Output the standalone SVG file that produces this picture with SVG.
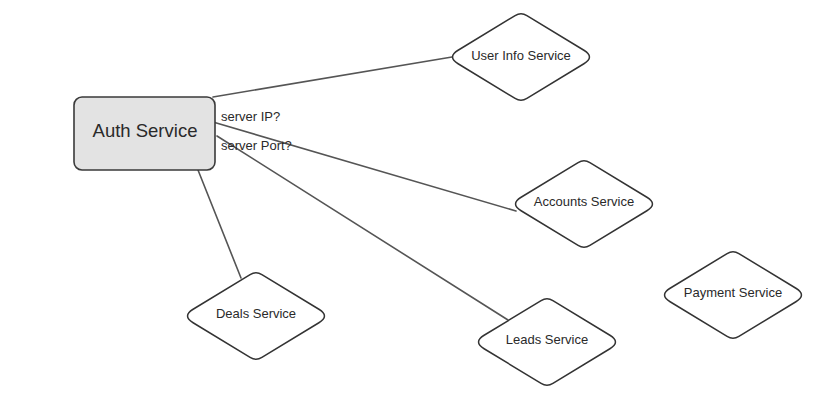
<svg xmlns="http://www.w3.org/2000/svg" xmlns:xlink="http://www.w3.org/1999/xlink" width="819" height="400" viewBox="0 0 819 400">
<style>
.bg{fill:#ffffff}
.conn{stroke:#555555;stroke-width:1.6;fill:none;stroke-linecap:round}
.dia{fill:#ffffff;stroke:#333333;stroke-width:1.5;stroke-linejoin:round}
.box{fill:#e3e3e3;stroke:#3a3a3a;stroke-width:1.6}
.t{font-family:"Liberation Sans",Arial,sans-serif;font-size:13px;fill:#2a2a2a}
.big{font-family:"Liberation Sans",Arial,sans-serif;font-size:18.5px;fill:#2a2a2a}
</style>
<defs>
<path id="diamond" d="M -5.9,-41.4 Q 0,-45 5.9,-41.4 L 62.9,-6.75 Q 74,0 62.9,6.75 L 5.9,41.4 Q 0,45 -5.9,41.4 L -62.9,6.75 Q -74,0 -62.9,-6.75 Z"/>
</defs>
<rect class="bg" x="0" y="0" width="819" height="400"/>
<g id="connectors">
<line class="conn" x1="213" y1="97" x2="452" y2="57"/>
<line class="conn" x1="213" y1="122" x2="516" y2="211"/>
<line class="conn" x1="217" y1="136" x2="508" y2="320"/>
<line class="conn" x1="198" y1="170" x2="241" y2="278"/>
<text class="t" x="221" y="121">server IP?</text>
<text class="t" x="221" y="150">server Port?</text>
</g>
<g id="auth">
<rect class="box" x="74" y="97" width="141" height="73" rx="8"/>
<text class="big" x="145" y="137" text-anchor="middle">Auth Service</text>
</g>
<g id="userinfo">
<use xlink:href="#diamond" href="#diamond" class="dia" transform="translate(521,57)"/>
<text class="t" x="521" y="60" text-anchor="middle">User Info Service</text>
</g>
<g id="accounts">
<use xlink:href="#diamond" href="#diamond" class="dia" transform="translate(584,204)"/>
<text class="t" x="584" y="206" text-anchor="middle">Accounts Service</text>
</g>
<g id="deals">
<use xlink:href="#diamond" href="#diamond" class="dia" transform="translate(256,316)"/>
<text class="t" x="256" y="318" text-anchor="middle">Deals Service</text>
</g>
<g id="leads">
<use xlink:href="#diamond" href="#diamond" class="dia" transform="translate(547,342)"/>
<text class="t" x="547" y="344" text-anchor="middle">Leads Service</text>
</g>
<g id="payment">
<use xlink:href="#diamond" href="#diamond" class="dia" transform="translate(733,295)"/>
<text class="t" x="733" y="297" text-anchor="middle">Payment Service</text>
</g>
</svg>
